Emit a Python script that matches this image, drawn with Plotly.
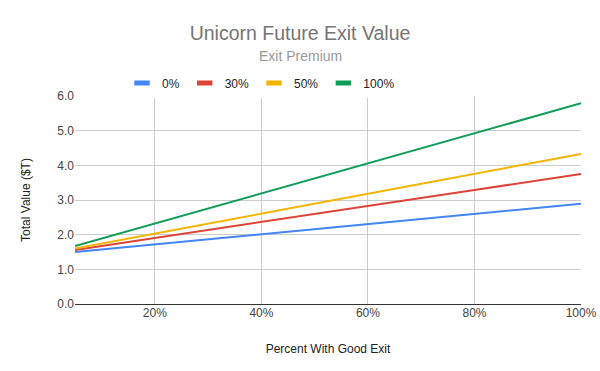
import plotly.graph_objects as go

x_vals = [0.05, 0.2, 0.4, 0.6, 0.8, 1.0]
series_names = ["0%", "30%", "50%", "100%"]
s0 = [1.50, 1.72, 2.01, 2.30, 2.60, 2.89]
s30 = [1.56, 1.91, 2.37, 2.83, 3.29, 3.75]
s50 = [1.60, 2.03, 2.61, 3.18, 3.76, 4.33]
s100 = [1.67, 2.32, 3.19, 4.06, 4.92, 5.79]
colors = ["#4285F4", "#DB4437", "#F4B400", "#0F9D58"]
x_ticks = [0.2, 0.4, 0.6, 0.8, 1.0]
x_tick_labels = ["20%", "40%", "60%", "80%", "100%"]
y_ticks = [0, 1, 2, 3, 4, 5, 6]
y_tick_labels = ["0.0", "1.0", "2.0", "3.0", "4.0", "5.0", "6.0"]

fig = go.Figure()
for name, ys, c in zip(series_names, [s0, s30, s50, s100], colors):
    fig.add_trace(go.Scatter(x=x_vals, y=ys, name=name, mode="lines",
                             line=dict(color=c, width=2), showlegend=False))
    # legend-only entry with a short thick bar symbol
    fig.add_trace(go.Scatter(x=[None], y=[None], name=name, mode="markers",
                             marker=dict(symbol="line-ew", size=11,
                                         line=dict(color=c, width=5))))

fig.update_layout(
    width=600, height=371,
    margin=dict(l=75, r=19, t=96, b=67, autoexpand=False),
    paper_bgcolor="white", plot_bgcolor="white",
    font=dict(family="Liberation Sans, Arial, sans-serif", color="#444", size=12),
    title=dict(text="Unicorn Future Exit Value", x=0.5, xanchor="center",
               y=1 - 33/371, yref="container", yanchor="middle",
               font=dict(size=19.5, color="#757575")),
    legend=dict(orientation="h", x=(261-75)/506, xanchor="center", y=(304-83)/208, yanchor="middle",
                font=dict(size=12, color="#222"), itemwidth=30, tracegroupgap=0),
    showlegend=True,
    annotations=[dict(text="Exit Premium", x=(300-75)/506, xref="paper", y=(304-56)/208, yref="paper",
                      xanchor="center", yanchor="middle", showarrow=False,
                      font=dict(size=14, color="#999"))],
)

fig.update_xaxes(range=[0.05, 1.0], tickvals=x_ticks, ticktext=x_tick_labels,
                 showgrid=True, gridcolor="#cccccc", gridwidth=1,
                 zeroline=False, showline=False, ticks="", automargin=False,
                 title=dict(text="Percent With Good Exit", font=dict(size=12, color="#222"), standoff=25),
                 tickfont=dict(size=12, color="#444"))
fig.update_yaxes(range=[0, 6], tickvals=y_ticks, ticktext=y_tick_labels,
                 showgrid=True, gridcolor="#cccccc", gridwidth=1,
                 zeroline=True, zerolinecolor="#333", zerolinewidth=1,
                 showline=False, ticks="", automargin=False,
                 title=dict(text="Total Value ($T)", font=dict(size=12, color="#222"), standoff=24),
                 tickfont=dict(size=12, color="#444"))

fig.write_html("out.html", config={"displayModeBar": False},
               post_script="document.body.style.margin='0';document.body.style.overflow='hidden';")
